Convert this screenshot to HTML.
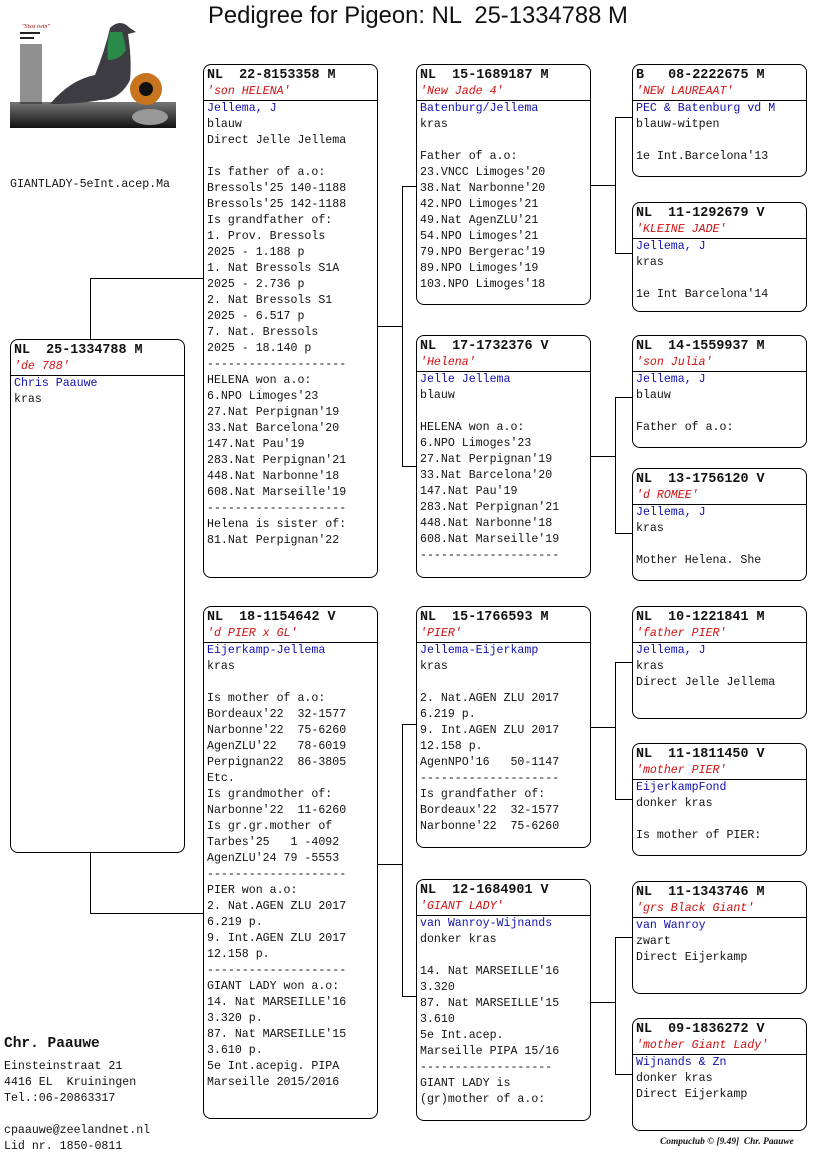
<!DOCTYPE html>
<html><head><meta charset="utf-8"><style>
body{margin:0;width:816px;height:1172px;position:relative;background:#fff;font-family:"Liberation Mono",monospace;color:#111;overflow:hidden}
.b{position:absolute;border:1px solid #000;border-radius:8px;box-sizing:border-box;width:175px;overflow:hidden}
.h{font-weight:bold;font-size:13.4px;line-height:17px;padding:2px 0 0 3px;white-space:pre}
.n{font-style:italic;color:#d01010;font-size:11.6px;line-height:16px;padding-left:3px;border-bottom:1px solid #000;white-space:pre}
.t{font-size:11.6px;line-height:16px;padding-left:3px;white-space:pre}
.o{color:#1010b0}
.l{position:absolute;background:#000}
</style></head><body>
<div style="position:absolute;left:208px;top:2px;font-family:'Liberation Sans',sans-serif;font-size:23.8px;white-space:pre">Pedigree for Pigeon: NL  25-1334788 M</div>
<svg style="position:absolute;left:10px;top:20px" width="166" height="108">
<defs><linearGradient id="g" x1="0" y1="0" x2="0" y2="1"><stop offset="0" stop-color="#777"/><stop offset="1" stop-color="#111"/></linearGradient></defs>
<rect x="0" y="0" width="166" height="108" fill="#fff"/>
<rect x="0" y="82" width="166" height="26" fill="url(#g)"/>
<text x="12" y="8" font-size="6" fill="#900" font-family="Liberation Serif" font-style="italic">"Sissi twin"</text>
<g fill="#222"><rect x="10" y="12" width="20" height="2"/><rect x="10" y="17" width="14" height="2"/><rect x="10" y="24" width="22" height="60" opacity=".5"/></g>
<path d="M40 84 Q60 60 85 55 Q95 30 100 8 Q110 -2 120 8 L126 12 L118 14 Q122 40 120 60 Q110 80 90 80 Q70 84 40 84Z" fill="#3c3c42"/>
<path d="M100 12 Q96 25 98 40 Q110 40 116 30 Q114 18 112 12Z" fill="#2a8a4a"/>
<circle cx="136" cy="69" r="16" fill="#c8741e"/><circle cx="136" cy="69" r="7" fill="#111"/>
<ellipse cx="140" cy="97" rx="18" ry="8" fill="#999"/>
</svg>
<div class="t" style="position:absolute;left:10px;top:177px;padding:0">GIANTLADY-5eInt.acep.Ma</div>

<!-- connectors -->
<div class="l" style="left:90px;top:278px;width:1px;height:61px"></div>
<div class="l" style="left:90px;top:278px;width:113px;height:1px"></div>
<div class="l" style="left:90px;top:852px;width:1px;height:61px"></div>
<div class="l" style="left:90px;top:913px;width:113px;height:1px"></div>

<div class="l" style="left:402px;top:186px;width:1px;height:280px"></div>
<div class="l" style="left:402px;top:186px;width:14px;height:1px"></div>
<div class="l" style="left:402px;top:466px;width:14px;height:1px"></div>
<div class="l" style="left:377px;top:326px;width:25px;height:1px"></div>
<div class="l" style="left:402px;top:724px;width:1px;height:272px"></div>
<div class="l" style="left:402px;top:724px;width:14px;height:1px"></div>
<div class="l" style="left:402px;top:996px;width:14px;height:1px"></div>
<div class="l" style="left:377px;top:864px;width:25px;height:1px"></div>

<div class="l" style="left:615px;top:117px;width:1px;height:136px"></div>
<div class="l" style="left:615px;top:117px;width:17px;height:1px"></div>
<div class="l" style="left:615px;top:253px;width:17px;height:1px"></div>
<div class="l" style="left:590px;top:185px;width:25px;height:1px"></div>
<div class="l" style="left:615px;top:397px;width:1px;height:136px"></div>
<div class="l" style="left:615px;top:397px;width:17px;height:1px"></div>
<div class="l" style="left:615px;top:533px;width:17px;height:1px"></div>
<div class="l" style="left:590px;top:456px;width:25px;height:1px"></div>
<div class="l" style="left:615px;top:662px;width:1px;height:137px"></div>
<div class="l" style="left:615px;top:662px;width:17px;height:1px"></div>
<div class="l" style="left:615px;top:799px;width:17px;height:1px"></div>
<div class="l" style="left:590px;top:727px;width:25px;height:1px"></div>
<div class="l" style="left:615px;top:937px;width:1px;height:137px"></div>
<div class="l" style="left:615px;top:937px;width:17px;height:1px"></div>
<div class="l" style="left:615px;top:1074px;width:17px;height:1px"></div>
<div class="l" style="left:590px;top:1002px;width:25px;height:1px"></div>

<!-- main -->
<div class="b" style="left:10px;top:339px;height:514px"><div class="h">NL  25-1334788 M</div><div class="n">'de 788'</div><div class="t"><span class="o">Chris Paauwe</span>
kras</div></div>

<!-- col1 -->
<div class="b" style="left:203px;top:64px;height:514px"><div class="h">NL  22-8153358 M</div><div class="n">'son HELENA'</div><div class="t"><span class="o">Jellema, J</span>
blauw
Direct Jelle Jellema

Is father of a.o:
Bressols'25 140-1188
Bressols'25 142-1188
Is grandfather of:
1. Prov. Bressols
2025 - 1.188 p
1. Nat Bressols S1A
2025 - 2.736 p
2. Nat Bressols S1
2025 - 6.517 p
7. Nat. Bressols
2025 - 18.140 p
--------------------
HELENA won a.o:
6.NPO Limoges'23
27.Nat Perpignan'19
33.Nat Barcelona'20
147.Nat Pau'19
283.Nat Perpignan'21
448.Nat Narbonne'18
608.Nat Marseille'19
--------------------
Helena is sister of:
81.Nat Perpignan'22</div></div>

<div class="b" style="left:203px;top:606px;height:513px"><div class="h">NL  18-1154642 V</div><div class="n">'d PIER x GL'</div><div class="t"><span class="o">Eijerkamp-Jellema</span>
kras

Is mother of a.o:
Bordeaux'22  32-1577
Narbonne'22  75-6260
AgenZLU'22   78-6019
Perpignan22  86-3805
Etc.
Is grandmother of:
Narbonne'22  11-6260
Is gr.gr.mother of
Tarbes'25   1 -4092
AgenZLU'24 79 -5553
--------------------
PIER won a.o:
2. Nat.AGEN ZLU 2017
6.219 p.
9. Int.AGEN ZLU 2017
12.158 p.
--------------------
GIANT LADY won a.o:
14. Nat MARSEILLE'16
3.320 p.
87. Nat MARSEILLE'15
3.610 p.
5e Int.acepig. PIPA
Marseille 2015/2016</div></div>

<!-- col2 -->
<div class="b" style="left:416px;top:64px;height:241px"><div class="h">NL  15-1689187 M</div><div class="n">'New Jade 4'</div><div class="t"><span class="o">Batenburg/Jellema</span>
kras

Father of a.o:
23.VNCC Limoges'20
38.Nat Narbonne'20
42.NPO Limoges'21
49.Nat AgenZLU'21
54.NPO Limoges'21
79.NPO Bergerac'19
89.NPO Limoges'19
103.NPO Limoges'18</div></div>

<div class="b" style="left:416px;top:335px;height:243px"><div class="h">NL  17-1732376 V</div><div class="n">'Helena'</div><div class="t"><span class="o">Jelle Jellema</span>
blauw

HELENA won a.o:
6.NPO Limoges'23
27.Nat Perpignan'19
33.Nat Barcelona'20
147.Nat Pau'19
283.Nat Perpignan'21
448.Nat Narbonne'18
608.Nat Marseille'19
--------------------</div></div>

<div class="b" style="left:416px;top:606px;height:242px"><div class="h">NL  15-1766593 M</div><div class="n">'PIER'</div><div class="t"><span class="o">Jellema-Eijerkamp</span>
kras

2. Nat.AGEN ZLU 2017
6.219 p.
9. Int.AGEN ZLU 2017
12.158 p.
AgenNPO'16   50-1147
--------------------
Is grandfather of:
Bordeaux'22  32-1577
Narbonne'22  75-6260</div></div>

<div class="b" style="left:416px;top:879px;height:242px"><div class="h">NL  12-1684901 V</div><div class="n">'GIANT LADY'</div><div class="t"><span class="o">van Wanroy-Wijnands</span>
donker kras

14. Nat MARSEILLE'16
3.320
87. Nat MARSEILLE'15
3.610
5e Int.acep.
Marseille PIPA 15/16
-------------------
GIANT LADY is
(gr)mother of a.o:</div></div>

<!-- col3 -->
<div class="b" style="left:632px;top:64px;height:113px"><div class="h">B   08-2222675 M</div><div class="n">'NEW LAUREAAT'</div><div class="t"><span class="o">PEC &amp; Batenburg vd M</span>
blauw-witpen

1e Int.Barcelona'13</div></div>
<div class="b" style="left:632px;top:202px;height:110px"><div class="h">NL  11-1292679 V</div><div class="n">'KLEINE JADE'</div><div class="t"><span class="o">Jellema, J</span>
kras

1e Int Barcelona'14</div></div>
<div class="b" style="left:632px;top:335px;height:113px"><div class="h">NL  14-1559937 M</div><div class="n">'son Julia'</div><div class="t"><span class="o">Jellema, J</span>
blauw

Father of a.o:</div></div>
<div class="b" style="left:632px;top:468px;height:113px"><div class="h">NL  13-1756120 V</div><div class="n">'d ROMEE'</div><div class="t"><span class="o">Jellema, J</span>
kras

Mother Helena. She</div></div>
<div class="b" style="left:632px;top:606px;height:113px"><div class="h">NL  10-1221841 M</div><div class="n">'father PIER'</div><div class="t"><span class="o">Jellema, J</span>
kras
Direct Jelle Jellema</div></div>
<div class="b" style="left:632px;top:743px;height:113px"><div class="h">NL  11-1811450 V</div><div class="n">'mother PIER'</div><div class="t"><span class="o">EijerkampFond</span>
donker kras

Is mother of PIER:</div></div>
<div class="b" style="left:632px;top:881px;height:113px"><div class="h">NL  11-1343746 M</div><div class="n">'grs Black Giant'</div><div class="t"><span class="o">van Wanroy</span>
zwart
Direct Eijerkamp</div></div>
<div class="b" style="left:632px;top:1018px;height:113px"><div class="h">NL  09-1836272 V</div><div class="n">'mother Giant Lady'</div><div class="t"><span class="o">Wijnands &amp; Zn</span>
donker kras
Direct Eijerkamp</div></div>

<!-- footer -->
<div style="position:absolute;left:4px;top:1036px;font-weight:bold;font-size:14.5px">Chr. Paauwe</div>
<div class="t" style="position:absolute;left:4px;top:1059px;padding:0">Einsteinstraat 21
4416 EL  Kruiningen
Tel.:06-20863317

cpaauwe@zeelandnet.nl
Lid nr. 1850-0811</div>
<div style="position:absolute;left:660px;top:1137px;font-size:9.4px;font-style:italic;font-weight:bold;font-family:'Liberation Serif',serif;white-space:pre">Compuclub © [9.49]  Chr. Paauwe</div>
</body></html>
